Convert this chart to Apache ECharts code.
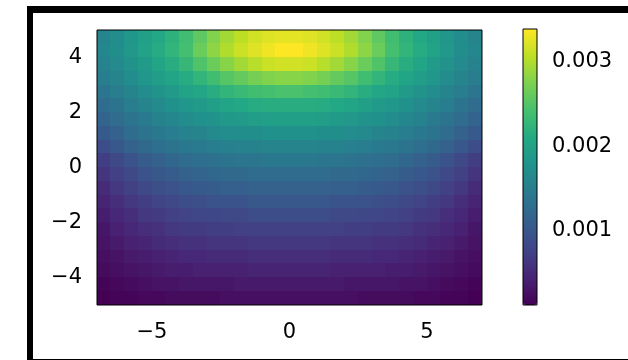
<!DOCTYPE html>
<html>
<head>
<meta charset="utf-8">
<script src="https://cdn.jsdelivr.net/npm/echarts@6/dist/echarts.min.js"></script>
<style>
  body { margin: 0; background: #fff; }
  #frame {
    position: absolute;
    left: 27px;
    top: 6px;
    width: 700px;
    height: 346px;
    border-left: 6px solid #000;
    border-top: 7px solid #000;
    border-bottom: 1px solid #000;
  }
  #chart { position: absolute; left: 0; top: 0; width: 628px; height: 360px; }
</style>
</head>
<body>
<div id="frame"></div>
<div id="chart"></div>
<script>
// cell centres (0.5 steps) over x in [-7, 7], y in [-5, 5]
const xCats = [-6.75, -6.25, -5.75, -5.25, -4.75, -4.25, -3.75, -3.25, -2.75, -2.25, -1.75, -1.25, -0.75, -0.25,
  0.25, 0.75, 1.25, 1.75, 2.25, 2.75, 3.25, 3.75, 4.25, 4.75, 5.25, 5.75, 6.25, 6.75];
const yCats = [-4.75, -4.25, -3.75, -3.25, -2.75, -2.25, -1.75, -1.25, -0.75, -0.25,
  0.25, 0.75, 1.25, 1.75, 2.25, 2.75, 3.25, 3.75, 4.25, 4.75];
const cellSize = 0.5;

// values, one row per y, top row (y = 4.75) first
const rows = [
  [0.00159,0.00169,0.00182,0.00195,0.00208,0.00221,0.00238,0.00257,0.00277,0.00293,0.00306,0.00316,0.00323,0.00326,0.00326,0.00323,0.00316,0.00306,0.00293,0.00277,0.00257,0.00238,0.00221,0.00208,0.00195,0.00182,0.00169,0.00159],
  [0.00163,0.00172,0.00185,0.00199,0.00212,0.00225,0.00241,0.00264,0.00283,0.00300,0.00313,0.00323,0.00332,0.00339,0.00339,0.00332,0.00323,0.00313,0.00300,0.00283,0.00264,0.00241,0.00225,0.00212,0.00199,0.00185,0.00172,0.00163],
  [0.00156,0.00166,0.00179,0.00189,0.00202,0.00215,0.00228,0.00248,0.00264,0.00280,0.00293,0.00303,0.00313,0.00316,0.00316,0.00313,0.00303,0.00293,0.00280,0.00264,0.00248,0.00228,0.00215,0.00202,0.00189,0.00179,0.00166,0.00156],
  [0.00150,0.00159,0.00169,0.00182,0.00192,0.00202,0.00212,0.00225,0.00238,0.00251,0.00261,0.00270,0.00277,0.00280,0.00280,0.00277,0.00270,0.00261,0.00251,0.00238,0.00225,0.00212,0.00202,0.00192,0.00182,0.00169,0.00159,0.00150],
  [0.00140,0.00150,0.00159,0.00169,0.00179,0.00189,0.00199,0.00205,0.00215,0.00225,0.00231,0.00238,0.00241,0.00244,0.00244,0.00241,0.00238,0.00231,0.00225,0.00215,0.00205,0.00199,0.00189,0.00179,0.00169,0.00159,0.00150,0.00140],
  [0.00127,0.00137,0.00150,0.00159,0.00166,0.00176,0.00182,0.00189,0.00195,0.00202,0.00208,0.00212,0.00215,0.00215,0.00215,0.00215,0.00212,0.00208,0.00202,0.00195,0.00189,0.00182,0.00176,0.00166,0.00159,0.00150,0.00137,0.00127],
  [0.00117,0.00127,0.00137,0.00146,0.00156,0.00163,0.00169,0.00176,0.00179,0.00185,0.00189,0.00192,0.00195,0.00195,0.00195,0.00195,0.00192,0.00189,0.00185,0.00179,0.00176,0.00169,0.00163,0.00156,0.00146,0.00137,0.00127,0.00117],
  [0.00104,0.00114,0.00127,0.00137,0.00143,0.00150,0.00156,0.00159,0.00166,0.00169,0.00172,0.00172,0.00176,0.00176,0.00176,0.00176,0.00172,0.00172,0.00169,0.00166,0.00159,0.00156,0.00150,0.00143,0.00137,0.00127,0.00114,0.00104],
  [0.00088,0.00101,0.00114,0.00123,0.00130,0.00137,0.00143,0.00146,0.00150,0.00153,0.00156,0.00156,0.00159,0.00159,0.00159,0.00159,0.00156,0.00156,0.00153,0.00150,0.00146,0.00143,0.00137,0.00130,0.00123,0.00114,0.00101,0.00088],
  [0.00071,0.00084,0.00097,0.00107,0.00114,0.00120,0.00127,0.00130,0.00133,0.00137,0.00140,0.00140,0.00143,0.00143,0.00143,0.00143,0.00140,0.00140,0.00137,0.00133,0.00130,0.00127,0.00120,0.00114,0.00107,0.00097,0.00084,0.00071],
  [0.00061,0.00074,0.00084,0.00094,0.00101,0.00107,0.00114,0.00117,0.00120,0.00123,0.00123,0.00127,0.00127,0.00127,0.00127,0.00127,0.00127,0.00123,0.00123,0.00120,0.00117,0.00114,0.00107,0.00101,0.00094,0.00084,0.00074,0.00061],
  [0.00052,0.00065,0.00074,0.00084,0.00091,0.00094,0.00101,0.00104,0.00107,0.00110,0.00110,0.00114,0.00114,0.00114,0.00114,0.00114,0.00114,0.00110,0.00110,0.00107,0.00104,0.00101,0.00094,0.00091,0.00084,0.00074,0.00065,0.00052],
  [0.00045,0.00055,0.00065,0.00071,0.00078,0.00084,0.00088,0.00091,0.00094,0.00097,0.00097,0.00101,0.00101,0.00101,0.00101,0.00101,0.00101,0.00097,0.00097,0.00094,0.00091,0.00088,0.00084,0.00078,0.00071,0.00065,0.00055,0.00045],
  [0.00039,0.00048,0.00055,0.00065,0.00068,0.00074,0.00078,0.00081,0.00081,0.00084,0.00084,0.00088,0.00088,0.00088,0.00088,0.00088,0.00088,0.00084,0.00084,0.00081,0.00081,0.00078,0.00074,0.00068,0.00065,0.00055,0.00048,0.00039],
  [0.00032,0.00042,0.00048,0.00055,0.00058,0.00065,0.00068,0.00068,0.00071,0.00071,0.00074,0.00074,0.00074,0.00074,0.00074,0.00074,0.00074,0.00074,0.00071,0.00071,0.00068,0.00068,0.00065,0.00058,0.00055,0.00048,0.00042,0.00032],
  [0.00029,0.00035,0.00042,0.00045,0.00052,0.00055,0.00058,0.00058,0.00061,0.00061,0.00061,0.00065,0.00065,0.00065,0.00065,0.00065,0.00065,0.00061,0.00061,0.00061,0.00058,0.00058,0.00055,0.00052,0.00045,0.00042,0.00035,0.00029],
  [0.00025,0.00029,0.00035,0.00039,0.00042,0.00045,0.00048,0.00048,0.00052,0.00052,0.00052,0.00055,0.00055,0.00055,0.00055,0.00055,0.00055,0.00052,0.00052,0.00052,0.00048,0.00048,0.00045,0.00042,0.00039,0.00035,0.00029,0.00025],
  [0.00022,0.00025,0.00029,0.00032,0.00035,0.00039,0.00039,0.00042,0.00042,0.00042,0.00042,0.00045,0.00045,0.00045,0.00045,0.00045,0.00045,0.00042,0.00042,0.00042,0.00042,0.00039,0.00039,0.00035,0.00032,0.00029,0.00025,0.00022],
  [0.00016,0.00019,0.00022,0.00025,0.00029,0.00029,0.00032,0.00032,0.00032,0.00032,0.00035,0.00035,0.00035,0.00035,0.00035,0.00035,0.00035,0.00035,0.00032,0.00032,0.00032,0.00032,0.00029,0.00029,0.00025,0.00022,0.00019,0.00016],
  [0.00012,0.00016,0.00016,0.00019,0.00019,0.00022,0.00022,0.00022,0.00022,0.00025,0.00025,0.00025,0.00025,0.00025,0.00025,0.00025,0.00025,0.00025,0.00025,0.00022,0.00022,0.00022,0.00022,0.00019,0.00019,0.00016,0.00016,0.00012]
];

const xTicks = [-5, 0, 5];
const yTicks = [-4, -2, 0, 2, 4];
const cbarTicks = [0.001, 0.002, 0.003];
const vMin = 0.00012;
const vMax = 0.00339;

const viridis = ['#440154', '#482475', '#414487', '#355f8d', '#2a788e', '#21918c',
  '#22a884', '#44bf70', '#7ad151', '#bddf26', '#fde725'];

const data = [];
rows.forEach((row, r) => {
  row.forEach((v, c) => {
    data.push([xCats[c], yCats[yCats.length - 1 - r], v]);
  });
});

const font = { fontFamily: 'DejaVu Sans', fontSize: 21, color: '#000' };
const minus = v => (v < 0 ? '\u2212' + Math.abs(v) : String(v));

const myChart = echarts.init(document.getElementById('chart'));
myChart.setOption({
  animation: false,
  grid: [
    { left: 97, top: 30, width: 385, height: 275, show: true, borderColor: '#000', borderWidth: 1, z: 10 },
    { left: 523, top: 29, width: 14, height: 276, show: true, borderColor: '#000', borderWidth: 1, z: 10 }
  ],
  xAxis: [
    {
      type: 'value', gridIndex: 0, min: -7, max: 7, position: 'bottom',
      axisLine: { show: false },
      axisTick: { show: true, customValues: xTicks, length: 7, lineStyle: { color: '#000', width: 1 } },
      axisLabel: Object.assign({ customValues: xTicks, margin: 17, formatter: minus }, font),
      splitLine: { show: false }
    },
    { type: 'value', gridIndex: 1, min: 0, max: 1, show: false }
  ],
  yAxis: [
    {
      type: 'value', gridIndex: 0, min: -5, max: 5, position: 'left',
      axisLine: { show: false },
      axisTick: { show: true, customValues: yTicks, length: 7, lineStyle: { color: '#000', width: 1 } },
      axisLabel: Object.assign({ customValues: yTicks, margin: 15, formatter: minus }, font),
      splitLine: { show: false }
    },
    {
      type: 'value', gridIndex: 1, min: vMin, max: vMax, position: 'right',
      axisLine: { show: false },
      axisTick: { show: true, customValues: cbarTicks, length: 7, lineStyle: { color: '#000', width: 1 } },
      axisLabel: Object.assign({ customValues: cbarTicks, margin: 15, formatter: v => v.toFixed(3) }, font),
      splitLine: { show: false }
    }
  ],
  visualMap: {
    type: 'continuous',
    seriesIndex: 0,
    dimension: 2,
    min: vMin,
    max: vMax,
    calculable: false,
    left: 523,
    top: 29,
    itemWidth: 14,
    itemHeight: 276,
    padding: 0,
    text: null,
    inRange: { color: viridis }
  },
  series: [
    {
      type: 'custom',
      xAxisIndex: 0,
      yAxisIndex: 0,
      clip: true,
      data: data,
      renderItem: function (params, api) {
        const p = api.coord([api.value(0), api.value(1)]);
        const s = api.size([cellSize, cellSize]);
        const x0 = Math.floor(p[0] - s[0] / 2);
        const y0 = Math.floor(p[1] - s[1] / 2);
        return {
          type: 'rect',
          shape: {
            x: x0,
            y: y0,
            width: Math.ceil(p[0] + s[0] / 2) - x0 + 1,
            height: Math.ceil(p[1] + s[1] / 2) - y0 + 1
          },
          style: { fill: api.visual('color') }
        };
      }
    }
  ]
});
</script>
</body>
</html>
